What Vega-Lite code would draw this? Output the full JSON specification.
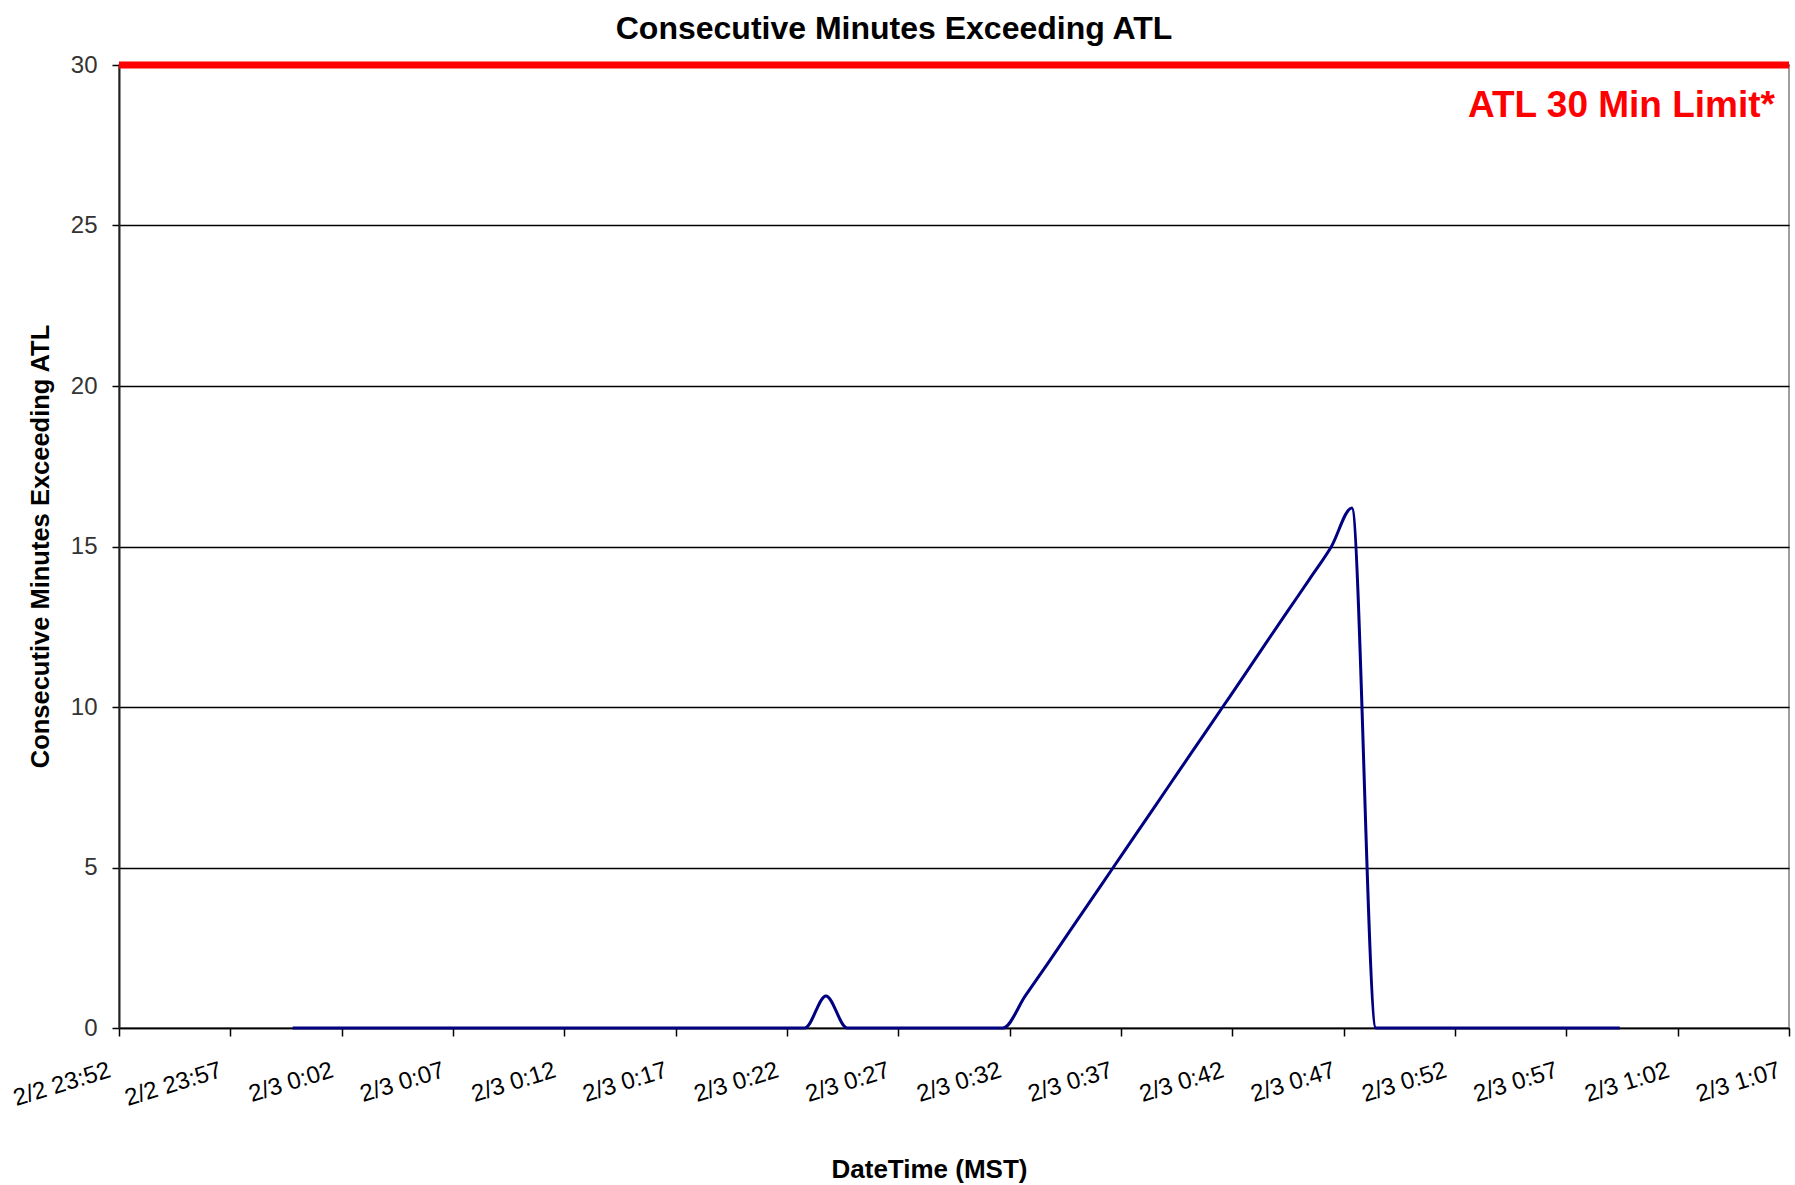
{
  "$schema": "https://vega.github.io/schema/vega-lite/v6.json",
  "autosize": "none",
  "width": 1670,
  "height": 963,
  "padding": {"left": 119, "top": 65, "right": 6, "bottom": 157},
  "background": "#ffffff",
  "config": {
    "font": "Liberation Sans",
    "view": {"stroke": "#808080", "strokeWidth": 1.5}
  },
  "title": {
    "text": "Consecutive Minutes Exceeding ATL",
    "fontSize": 32,
    "fontWeight": "bold",
    "color": "#000000",
    "anchor": "middle",
    "baseline": "alphabetic",
    "dx": -60,
    "offset": -20
  },
  "datasets": {
    "minutes": [
      {"time": "2009-02-02T23:59:48", "minutes": 0},
      {"time": "2009-02-03T00:00:48", "minutes": 0},
      {"time": "2009-02-03T00:01:48", "minutes": 0},
      {"time": "2009-02-03T00:02:48", "minutes": 0},
      {"time": "2009-02-03T00:03:48", "minutes": 0},
      {"time": "2009-02-03T00:04:48", "minutes": 0},
      {"time": "2009-02-03T00:05:48", "minutes": 0},
      {"time": "2009-02-03T00:06:48", "minutes": 0},
      {"time": "2009-02-03T00:07:48", "minutes": 0},
      {"time": "2009-02-03T00:08:48", "minutes": 0},
      {"time": "2009-02-03T00:09:48", "minutes": 0},
      {"time": "2009-02-03T00:10:48", "minutes": 0},
      {"time": "2009-02-03T00:11:48", "minutes": 0},
      {"time": "2009-02-03T00:12:48", "minutes": 0},
      {"time": "2009-02-03T00:13:48", "minutes": 0},
      {"time": "2009-02-03T00:14:48", "minutes": 0},
      {"time": "2009-02-03T00:15:48", "minutes": 0},
      {"time": "2009-02-03T00:16:48", "minutes": 0},
      {"time": "2009-02-03T00:17:48", "minutes": 0},
      {"time": "2009-02-03T00:18:48", "minutes": 0},
      {"time": "2009-02-03T00:19:48", "minutes": 0},
      {"time": "2009-02-03T00:20:48", "minutes": 0},
      {"time": "2009-02-03T00:21:48", "minutes": 0},
      {"time": "2009-02-03T00:22:48", "minutes": 0},
      {"time": "2009-02-03T00:23:45", "minutes": 1},
      {"time": "2009-02-03T00:24:42", "minutes": 0},
      {"time": "2009-02-03T00:25:42", "minutes": 0},
      {"time": "2009-02-03T00:26:42", "minutes": 0},
      {"time": "2009-02-03T00:27:42", "minutes": 0},
      {"time": "2009-02-03T00:28:42", "minutes": 0},
      {"time": "2009-02-03T00:29:42", "minutes": 0},
      {"time": "2009-02-03T00:30:42", "minutes": 0},
      {"time": "2009-02-03T00:31:42", "minutes": 0},
      {"time": "2009-02-03T00:32:42", "minutes": 1},
      {"time": "2009-02-03T00:33:42", "minutes": 2},
      {"time": "2009-02-03T00:34:41", "minutes": 3},
      {"time": "2009-02-03T00:35:40", "minutes": 4},
      {"time": "2009-02-03T00:36:39", "minutes": 5},
      {"time": "2009-02-03T00:37:38", "minutes": 6},
      {"time": "2009-02-03T00:38:37", "minutes": 7},
      {"time": "2009-02-03T00:39:36", "minutes": 8},
      {"time": "2009-02-03T00:40:35", "minutes": 9},
      {"time": "2009-02-03T00:41:34", "minutes": 10},
      {"time": "2009-02-03T00:42:33", "minutes": 11},
      {"time": "2009-02-03T00:43:31", "minutes": 12},
      {"time": "2009-02-03T00:44:30", "minutes": 13},
      {"time": "2009-02-03T00:45:29", "minutes": 14},
      {"time": "2009-02-03T00:46:27", "minutes": 15},
      {"time": "2009-02-03T00:47:22", "minutes": 16.2},
      {"time": "2009-02-03T00:48:27", "minutes": 0},
      {"time": "2009-02-03T00:49:27", "minutes": 0},
      {"time": "2009-02-03T00:50:27", "minutes": 0},
      {"time": "2009-02-03T00:51:27", "minutes": 0},
      {"time": "2009-02-03T00:52:27", "minutes": 0},
      {"time": "2009-02-03T00:53:27", "minutes": 0},
      {"time": "2009-02-03T00:54:27", "minutes": 0},
      {"time": "2009-02-03T00:55:27", "minutes": 0},
      {"time": "2009-02-03T00:56:27", "minutes": 0},
      {"time": "2009-02-03T00:57:27", "minutes": 0},
      {"time": "2009-02-03T00:58:27", "minutes": 0},
      {"time": "2009-02-03T00:59:24", "minutes": 0}
    ],
    "limit": [
      {"time": "2009-02-02T23:52:00", "minutes": 30, "label": "ATL 30 Min Limit*"},
      {"time": "2009-02-03T01:07:00", "minutes": 30, "label": "ATL 30 Min Limit*"}
    ],
    "limitLabel": [
      {"time": "2009-02-03T01:07:00", "minutes": 30, "label": "ATL 30 Min Limit*"}
    ]
  },
  "encoding": {
    "x": {
      "field": "time",
      "type": "temporal",
      "scale": {
        "domain": [
          {"year": 2009, "month": 2, "date": 2, "hours": 23, "minutes": 52},
          {"year": 2009, "month": 2, "date": 3, "hours": 1, "minutes": 7}
        ],
        "nice": false
      },
      "axis": {
        "title": "DateTime (MST)",
        "titleFontSize": 26,
        "titleFontWeight": "bold",
        "titleColor": "#000000",
        "titleX": 810,
        "titleY": 149,
        "titleBaseline": "alphabetic",
        "values": [
          {"year": 2009, "month": 2, "date": 2, "hours": 23, "minutes": 52},
          {"year": 2009, "month": 2, "date": 2, "hours": 23, "minutes": 57},
          {"year": 2009, "month": 2, "date": 3, "hours": 0, "minutes": 2},
          {"year": 2009, "month": 2, "date": 3, "hours": 0, "minutes": 7},
          {"year": 2009, "month": 2, "date": 3, "hours": 0, "minutes": 12},
          {"year": 2009, "month": 2, "date": 3, "hours": 0, "minutes": 17},
          {"year": 2009, "month": 2, "date": 3, "hours": 0, "minutes": 22},
          {"year": 2009, "month": 2, "date": 3, "hours": 0, "minutes": 27},
          {"year": 2009, "month": 2, "date": 3, "hours": 0, "minutes": 32},
          {"year": 2009, "month": 2, "date": 3, "hours": 0, "minutes": 37},
          {"year": 2009, "month": 2, "date": 3, "hours": 0, "minutes": 42},
          {"year": 2009, "month": 2, "date": 3, "hours": 0, "minutes": 47},
          {"year": 2009, "month": 2, "date": 3, "hours": 0, "minutes": 52},
          {"year": 2009, "month": 2, "date": 3, "hours": 0, "minutes": 57},
          {"year": 2009, "month": 2, "date": 3, "hours": 1, "minutes": 2},
          {"year": 2009, "month": 2, "date": 3, "hours": 1, "minutes": 7}
        ],
        "format": "%-m/%-d %-H:%M",
        "labelAngle": -17,
        "labelAlign": "right",
        "labelBaseline": "top",
        "labelFontSize": 24,
        "labelColor": "#000000",
        "labelPadding": 22,
        "labelOffset": -13,
        "labelOverlap": false,
        "labelFlush": false,
        "labelBound": false,
        "tickSize": 8,
        "tickColor": "#000000",
        "tickWidth": 1.5,
        "domainColor": "#000000",
        "domainWidth": 1.5,
        "grid": false
      }
    },
    "y": {
      "field": "minutes",
      "type": "quantitative",
      "scale": {"domain": [0, 30], "nice": false, "zero": true},
      "axis": {
        "title": "Consecutive Minutes Exceeding ATL",
        "titleFontSize": 25.5,
        "titleFontWeight": "bold",
        "titleColor": "#000000",
        "titleAngle": -90,
        "titleX": -79,
        "titleY": 481,
        "titleBaseline": "middle",
        "titleAlign": "center",
        "values": [0, 5, 10, 15, 20, 25, 30],
        "labelFontSize": 24,
        "labelColor": "#333333",
        "labelPadding": 15,
        "tickSize": 7,
        "tickColor": "#000000",
        "tickWidth": 1.5,
        "domainColor": "#222222",
        "domainWidth": 2,
        "grid": true,
        "gridColor": "#000000",
        "gridWidth": 1.5
      }
    }
  },
  "layer": [
    {
      "data": {"name": "limit"},
      "mark": {"type": "line", "color": "#ff0000", "strokeWidth": 7, "clip": false},
      "encoding": {}
    },
    {
      "data": {"name": "minutes"},
      "mark": {"type": "line", "color": "#000080", "strokeWidth": 3, "interpolate": "monotone"},
      "encoding": {}
    },
    {
      "data": {"name": "limitLabel"},
      "mark": {
        "type": "text",
        "color": "#ff0000",
        "fontSize": 37,
        "fontWeight": "bold",
        "align": "right",
        "baseline": "alphabetic",
        "dx": -14,
        "dy": 52
      },
      "encoding": {"text": {"field": "label"}}
    }
  ]
}
